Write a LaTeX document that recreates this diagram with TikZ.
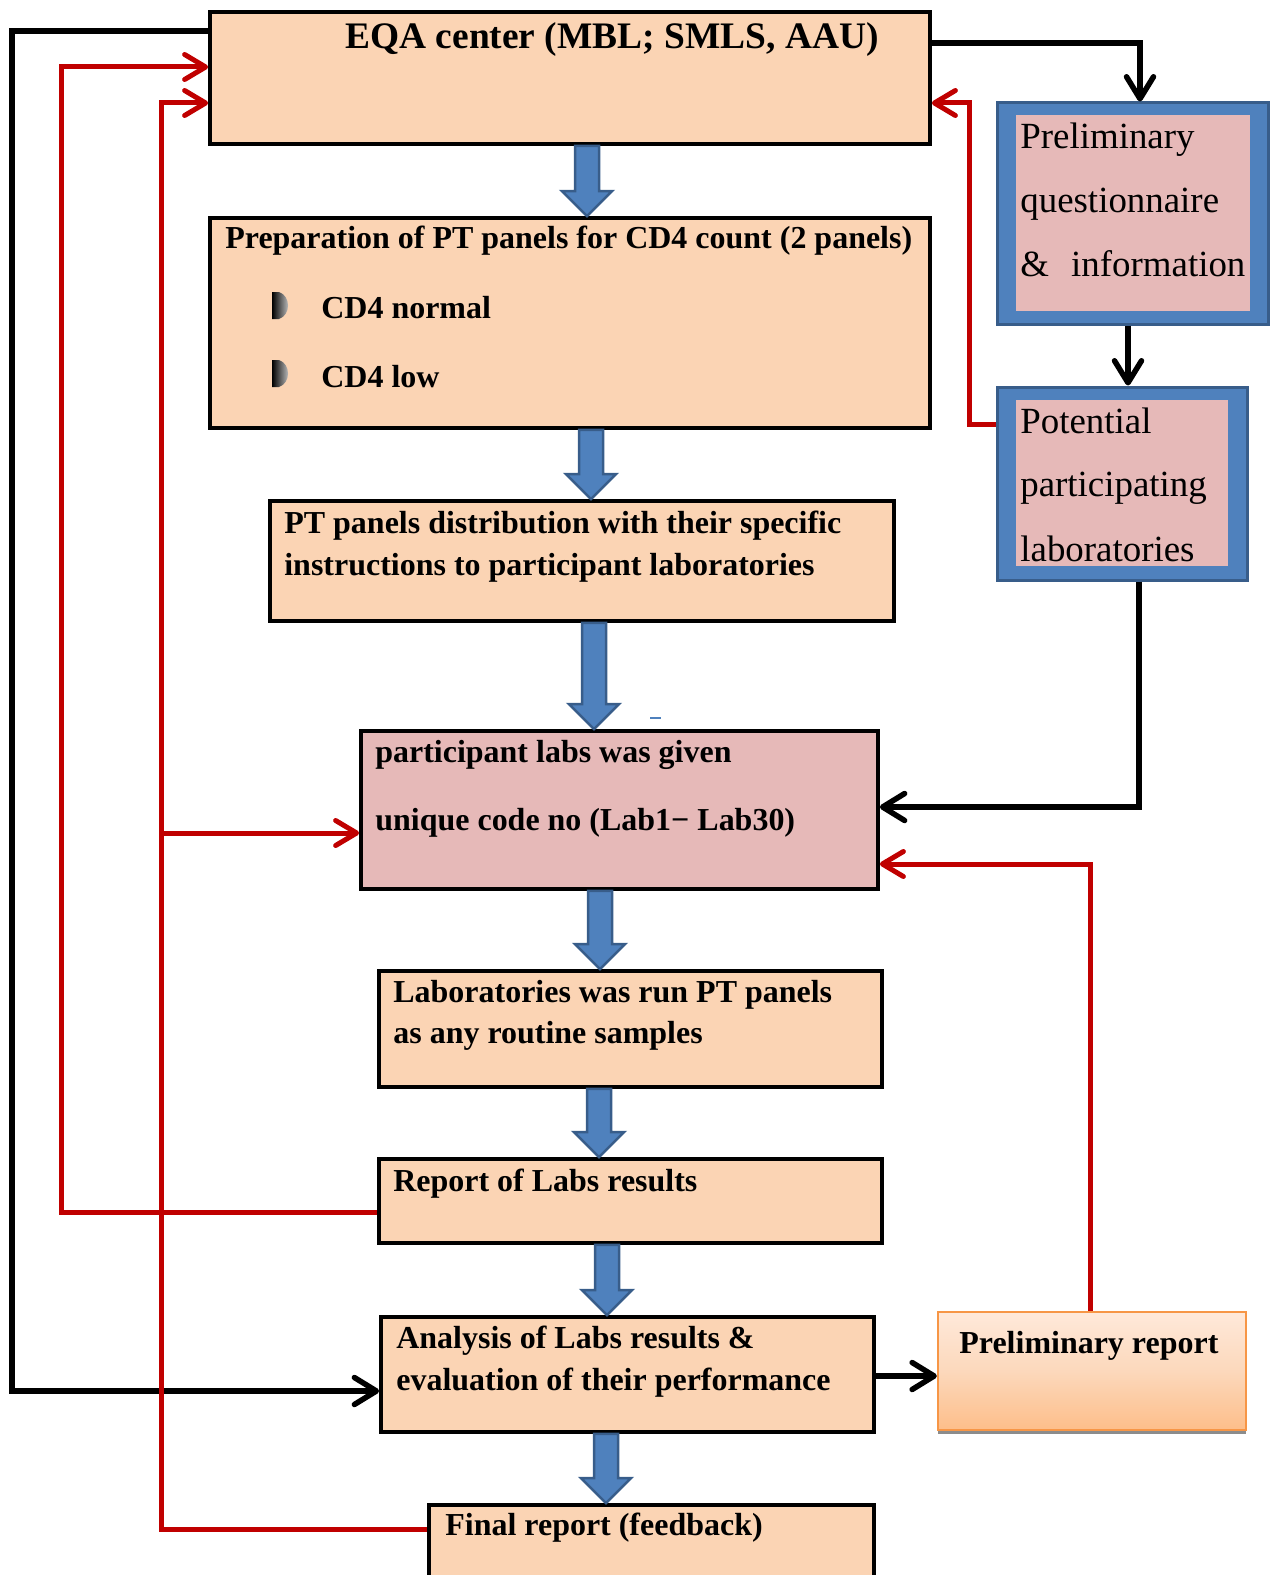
\documentclass[tikz,border=0pt]{standalone}
\usepackage{fontspec}
\setmainfont{Liberation Serif}
\usetikzlibrary{arrows.meta,fit,calc,shadows}
\definecolor{peach}{HTML}{FBD4B4}
\definecolor{rose}{HTML}{E6B9B8}
\definecolor{oblue}{HTML}{4F81BD}
\definecolor{dblue}{HTML}{385D8A}
\definecolor{dred}{HTML}{C00000}
\definecolor{orng}{HTML}{F79646}
\definecolor{gradtop}{HTML}{FFE9DA}
\definecolor{gradbot}{HTML}{FDBE8A}
\tikzset{
  box/.style={draw=black, line width=0.075cm, fill=peach, inner sep=0pt},
  pinkbox/.style={box, fill=rose},
  framebox/.style={draw=dblue, line width=0.06cm, fill=oblue, inner sep=0pt},
  rosefill/.style={fill=rose, inner sep=0pt},
  prelimbox/.style={draw=orng, line width=0.045cm, top color=gradtop, bottom color=gradbot, middle color=peach!80!gradtop, inner sep=0pt,
     drop shadow={shadow xshift=0cm, shadow yshift=-0.07cm, fill=black!45, opacity=1}},
  btxt/.style={font=\bfseries\fontsize{18.2}{21}\selectfont, anchor=base west, inner sep=0pt},
  ttxt/.style={font=\bfseries\fontsize{21.3}{24}\selectfont, anchor=base west, inner sep=0pt},
  rtxt/.style={font=\fontsize{21}{24}\selectfont, anchor=base west, inner sep=0pt},
  blkln/.style={draw=black, line width=0.11cm, -{Straight Barb[length=0.44cm,width=0.54cm,round]}},
  redln/.style={draw=dred, line width=0.1cm, -{Straight Barb[length=0.42cm,width=0.5cm,round]}},
  barrow/.style={fill=oblue, draw=dblue, line width=0.05cm, line join=miter},
  bullet/.style={left color=black, right color=black!15},
}
\newcommand\blockarrow[3]{%
  \coordinate (ba1) at (#1,0 |- #2.south);
  \coordinate (ba2) at (#1,0 |- #3.north);
  \draw[barrow] ($(ba1)+(-12,0)$) -- ($(ba2)+(-12,-25)$) -- ($(ba2)+(-25,-25)$) -- (ba2)
     -- ($(ba2)+(25,-25)$) -- ($(ba2)+(12,-25)$) -- ($(ba1)+(12,0)$) -- cycle;
}
\begin{document}
\begin{tikzpicture}[x=0.02cm,y=-0.02cm]
\useasboundingbox (0,0) rectangle (1271,1575);
\clip (0,0) rectangle (1271,1575);

% boxes
\node[box, fit={(210,12)(930,144)}] (eqa) {};
\node[box, fit={(210,218)(930,428)}] (prep) {};
\node[box, fit={(270,501)(894,621)}] (dist) {};
\node[pinkbox, fit={(361,731)(878,889)}] (part) {};
\node[box, fit={(379,971)(882,1087)}] (lab) {};
\node[box, fit={(379,1159)(882,1243)}] (rep) {};
\node[box, fit={(381,1317)(874,1432)}] (ana) {};
\node[box, fit={(429,1505)(874,1640)}] (fin) {};
\node[framebox, fit={(997,103)(1268,324)}] (prelq) {};
\node[rosefill, fit={(1016,115)(1250,311)}] (prelqin) {};
\node[framebox, fit={(997,387)(1247,580)}] (pot) {};
\node[rosefill, fit={(1016,400)(1228,566)}] (potin) {};
\node[prelimbox, fit={(938,1312)(1246,1430)}] (prer) {};

% texts
\node[ttxt] (t1) at (345,49) {EQA center (MBL; SMLS, AAU)};
\node[btxt] (t2) at (225,248) {Preparation of PT panels for CD4 count (2 panels)};
\node[btxt] (t3) at (321,318) {CD4 normal};
\node[btxt] (t4) at (321,387) {CD4 low};
\node[btxt] (t5) at (284,533) {PT panels distribution with their specific};
\node[btxt] (t6) at (284,575) {instructions to participant laboratories};
\node[btxt] (t7) at (375,762) {participant labs was given};
\node[btxt] (t8) at (375,830) {unique code no (Lab1− Lab30)};
\node[btxt] (t9) at (393,1002) {Laboratories was run PT panels};
\node[btxt] (t10) at (393,1043) {as any routine samples};
\node[btxt] (t11) at (393,1191) {Report of Labs results};
\node[btxt] (t12) at (396,1348) {Analysis of Labs results \&};
\node[btxt] (t13) at (396,1390) {evaluation of their performance};
\node[btxt] (t14) at (445,1535) {Final report (feedback)};
\node[btxt] (t15) at (959,1353) {Preliminary report};
\node[rtxt] (t16) at (1020,149) {Preliminary};
\node[rtxt] (t17) at (1020,212) {questionnaire};
\node[rtxt] (t18) at (1020,276) {\&\hspace{0.6em}information};
\node[rtxt] (t19) at (1020,433) {Potential};
\node[rtxt] (t20) at (1020,496) {participating};
\node[rtxt] (t21) at (1020,561) {laboratories};

% bullets
\shade[bullet] (272,292) -- (279,292) .. controls (291,296) and (291,315) .. (279,319) -- (272,319) -- cycle;
\shade[bullet] (272,360) -- (279,360) .. controls (291,364) and (291,383) .. (279,387) -- (272,387) -- cycle;

% block arrows
\blockarrow{587}{eqa}{prep}
\blockarrow{591}{prep}{dist}
\blockarrow{594}{dist}{part}
\blockarrow{600}{part}{lab}
\blockarrow{599}{lab}{rep}
\blockarrow{607}{rep}{ana}
\blockarrow{606}{ana}{fin}
\draw[oblue, line width=0.04cm] (650,718) -- (661,718);

% black connectors
\draw[blkln] (eqa.west |- 0,31) -| (12,1391) -- (ana.west |- 0,1391);
\draw[blkln] (eqa.east |- 0,43) -| (1140,0 |- prelq.north);
\draw[blkln] (1128,0 |- prelq.south) -- (1128,0 |- pot.north);
\draw[blkln] (1139,0 |- pot.south) |- (part.east |- 0,807);
\draw[blkln] (ana.east |- 0,1376) -- (prer.west |- 0,1376);

% red connectors
\coordinate (branch) at (161,833);
\draw[redln] (rep.west |- 0,1212) -| (61,67) -- (eqa.west |- 0,67);
\draw[redln] (fin.west |- 0,1529) -| (161,103) -- (eqa.west |- 0,103);
\draw[redln] (branch) -- (part.west |- 0,833);
\draw[redln] (pot.west |- 0,424) -| (969,103) -- (eqa.east |- 0,103);
\draw[redln] (1090,0 |- prer.north) |- (part.east |- 0,864);
\end{tikzpicture}
\end{document}
